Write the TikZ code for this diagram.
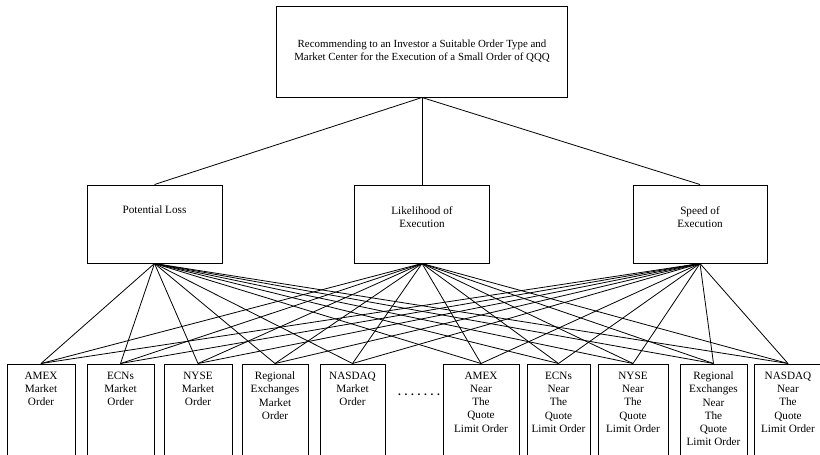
\documentclass[tikz,border=0pt]{standalone}
\usepackage{fontspec}
\setmainfont{Liberation Serif}
\begin{document}
\begin{tikzpicture}[x=1pt,y=-1pt,
  box/.style={draw, line width=1pt, inner sep=0pt},
  lbl/.style={anchor=north, align=center, inner sep=0pt, font=\fontsize{11.2}{13.3}\selectfont},
  conn/.style={line width=0.8pt}]
\useasboundingbox (0,0) rectangle (820,455);
\begin{scope}
\clip (0,0) rectangle (820,455);
% goal
\node[box, minimum width=291, minimum height=91] (goal) at (422,51.5) {};
\node[lbl, font=\fontsize{10.9}{13}\selectfont] (goalt) at (422,40)
  {Recommending to an Investor a Suitable Order Type and\\Market Center for the Execution of a Small Order of QQQ};
% criteria
\node[box, minimum width=135, minimum height=78] (pl) at (154.5,224) {};
\node[box, minimum width=135, minimum height=78] (le) at (422,224) {};
\node[box, minimum width=134, minimum height=78] (se) at (700,224) {};
\node[lbl] (plt) at (154.5,206) {Potential Loss};
\node[lbl] (let) at (422,206) {Likelihood of\\Execution};
\node[lbl] (set) at (700,206) {Speed of\\Execution};
% alternatives
\foreach \n/\c/\w/\t in {
  b1/41/68/{AMEX\\Market\\Order},
  b2/120.5/67/{ECNs\\Market\\Order},
  b3/198/68/{NYSE\\Market\\Order},
  b4/275/66/{Regional\\Exchanges\\Market\\Order},
  b5/352.5/65/{NASDAQ\\Market\\Order},
  b6/481/76/{AMEX\\Near\\The\\Quote\\Limit Order},
  b7/558.5/63/{ECNs\\Near\\The\\Quote\\Limit Order},
  b8/633/70/{NYSE\\Near\\The\\Quote\\Limit Order},
  b9/713.5/67/{Regional\\Exchanges\\Near\\The\\Quote\\Limit Order},
  b10/788/68/{NASDAQ\\Near\\The\\Quote\\Limit Order}} {
  \node[box, anchor=north, minimum width=\w, minimum height=110] (\n) at (\c,363.5) {};
  \node[lbl] (\n t) at (\c,371.5) {\t};
}
\node[anchor=base, inner sep=0pt, font=\fontsize{11.2}{13.3}\selectfont\bfseries] (dots) at (419,395.5) {. . . . . . .};
% connectors
\draw[conn] (goal.south) -- (pl.north);
\draw[conn] (goal.south) -- (le.north);
\draw[conn] (goal.south) -- (se.north);
\foreach \m in {pl,le,se}
  \foreach \b in {b1,b2,b3,b4,b5,b6,b7,b8,b9,b10}
    \draw[conn] (\m.south) -- (\b.north);
\end{scope}
\end{tikzpicture}
\end{document}
